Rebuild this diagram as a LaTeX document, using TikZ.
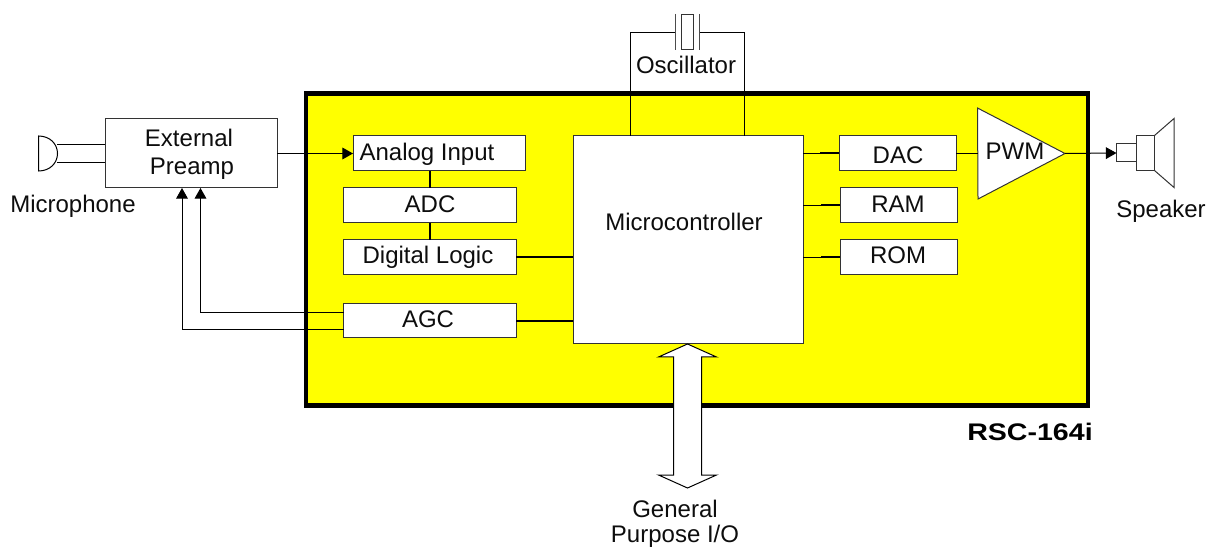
\documentclass[tikz,border=0pt]{standalone}
\usepackage{fontspec}
\setmainfont{Liberation Sans}
\usetikzlibrary{arrows.meta}
\definecolor{chipyellow}{rgb}{1,1,0}
\tikzset{
  every node/.style={outer sep=0pt},
  wire/.style={draw=black,line width=0.75pt},
  thickwire/.style={draw=black,line width=1.5pt},
  tip/.style={-{Triangle[length=8pt,width=8.8pt]}},
  blockbox/.style={draw=black!80,fill=white,line width=0.75pt,inner sep=0pt,anchor=north west},
  lab/.style={inner sep=0pt,anchor=base,font=\fontsize{18}{21}\selectfont,text=black!95},
}
\begin{document}
\begin{tikzpicture}[x=0.75pt,y=-0.75pt]
\useasboundingbox (0,0) rectangle (1216,548);
\begin{scope}[yshift=-0.75pt]
% chip
\node[draw=black,fill=chipyellow,line width=3.4pt,inner sep=0pt,anchor=north west,minimum width=782*0.75pt,minimum height=312*0.75pt] (chip) at (306,92.7) {};
\node[inner sep=0pt,anchor=base,font=\fontsize{18}{18}\selectfont\bfseries,xscale=1.19] (rsc) at (1030,439.5) {RSC-164i};
% preamp
\node[blockbox,minimum width=172*0.75pt,minimum height=69*0.75pt] (preamp) at (105,118) {};
\node[lab] (preamptextA) at (189,146) {External};
\node[lab] (preamptextB) at (192,174) {Preamp};
% blocks
\node[blockbox,minimum width=172*0.75pt,minimum height=35*0.75pt] (analog) at (353,135) {};
\node[lab] (analogtext) at (427,160) {Analog Input};
\node[blockbox,minimum width=172.5*0.75pt,minimum height=35*0.75pt] (adc) at (343.5,187) {};
\node[lab] (adctext) at (430,212) {ADC};
\node[blockbox,minimum width=172.5*0.75pt,minimum height=34.5*0.75pt] (digital) at (343.5,239) {};
\node[lab] (digitaltext) at (428,263) {Digital Logic};
\node[blockbox,minimum width=172.5*0.75pt,minimum height=34*0.75pt] (agc) at (343.5,303) {};
\node[lab] (agctext) at (428,327) {AGC};
\node[blockbox,minimum width=230*0.75pt,minimum height=208*0.75pt] (micro) at (573,135) {};
\node[lab] (microtext) at (684,230) {Microcontroller};
\node[blockbox,minimum width=117*0.75pt,minimum height=35*0.75pt] (dac) at (839,135) {};
\node[lab] (dactext) at (898,163) {DAC};
\node[blockbox,minimum width=117*0.75pt,minimum height=34.5*0.75pt] (ram) at (840,187) {};
\node[lab] (ramtext) at (898,212) {RAM};
\node[blockbox,minimum width=117*0.75pt,minimum height=34.5*0.75pt] (rom) at (840,239) {};
\node[lab] (romtext) at (898,263) {ROM};
% microphone
\coordinate (micA) at (57,144);
\coordinate (micB) at (57,161.5);
\coordinate (preampA) at (preamp.west |- micA);
\coordinate (preampB) at (preamp.west |- micB);
\draw[wire] (micA) -- (preampA);
\draw[wire] (micB) -- (preampB);
\draw[wire,fill=white] (38.5,135) -- (38.5,170) .. controls (50,170) and (57.5,162) .. (57.5,152.5) .. controls (57.5,143) and (50,135) .. (38.5,135) -- cycle;
\node[lab] (miclabel) at (73,212) {Microphone};
% preamp to analog
\draw[wire,tip] (preamp.east |- analog.west) -- (analog.west);
% AGC to preamp
\coordinate (agcA) at (agc.west |- 0,311.5);
\coordinate (agcB) at (agc.west |- 0,328.5);
\coordinate (preampC) at (200.5,187);
\coordinate (preampD) at (182,187);
\draw[wire,tip] (agcA) -| (preampC);
\draw[wire,tip] (agcB) -| (preampD);
% internal connections
\coordinate (chainx) at (429.5,0);
\draw[thickwire] (chainx |- analog.south) -- (chainx |- adc.north);
\draw[thickwire] (chainx |- adc.south) -- (chainx |- digital.north);
\draw[thickwire] (digital.east) -- (micro.west |- digital.east);
\draw[thickwire] (agc.east) -- (micro.west |- agc.east);
% oscillator
\coordinate (crysL) at (675.5,31.5);
\coordinate (crysR) at (699,31.5);
\draw[wire] (630.5,0 |- micro.north) -- (630.5,31.5) -- (crysL);
\draw[wire] (744.5,0 |- micro.north) -- (744.5,31.5) -- (crysR);
\draw[wire,draw=black!70] (675.5,13) -- (675.5,49);
\draw[wire,draw=black!70] (699,13) -- (699,49);
\draw[wire,draw=black!80,fill=white] (681.5,13.5) rectangle (693,49);
\node[lab] (osc) at (686,73) {Oscillator};
% right side
\foreach \b in {dac,ram,rom}{
  \coordinate (\b stub) at ([xshift=-19*0.75pt]\b.west);
  \draw[wire] (micro.east |- \b.west) -- (\b stub);
  \draw[thickwire] (\b stub) -- (\b.west);
}
% PWM
\node[inner sep=0pt,minimum size=0pt] (pwmin) at (977.5,152.5) {};
\node[inner sep=0pt,minimum size=0pt] (pwmout) at (1065,152.5) {};
\draw[wire,draw=black!80,fill=white] (977.5,107) -- (pwmout.center) -- (978,198) -- cycle;
\draw[wire] (dac.east |- pwmin) -- (pwmin);
\node[lab] (pwmtext) at (1015,159) {PWM};
% speaker
\node[draw=black!80,fill=white,line width=0.75pt,inner sep=0pt,anchor=north west,minimum width=19.5*0.75pt,minimum height=18*0.75pt] (spka) at (1116.5,143) {};
\node[draw=black!80,fill=white,line width=0.75pt,inner sep=0pt,anchor=north west,minimum width=18.5*0.75pt,minimum height=35*0.75pt] (spkb) at (1136,134.5) {};
\draw[wire,draw=black!80] (1154.5,134.5) -- (1174,117.5) -- (1174,186.5) -- (1154.5,169.5);
\draw[wire,tip] (pwmout) -- (spka.west);
\node[lab] (spklabel) at (1161,217) {Speaker};
% I/O arrow
\draw[wire,fill=white] (687.5,343) -- (716.5,356) -- (701.5,356) -- (701.5,474) -- (716.5,474) -- (687.5,487) -- (658.5,474) -- (673.5,474) -- (673.5,356) -- (658.5,356) -- cycle;
\node[lab] (gen1) at (675,516.5) {General};
\node[lab] (gen2) at (675,541.5) {Purpose I/O};
\end{scope}
\end{tikzpicture}
\end{document}
